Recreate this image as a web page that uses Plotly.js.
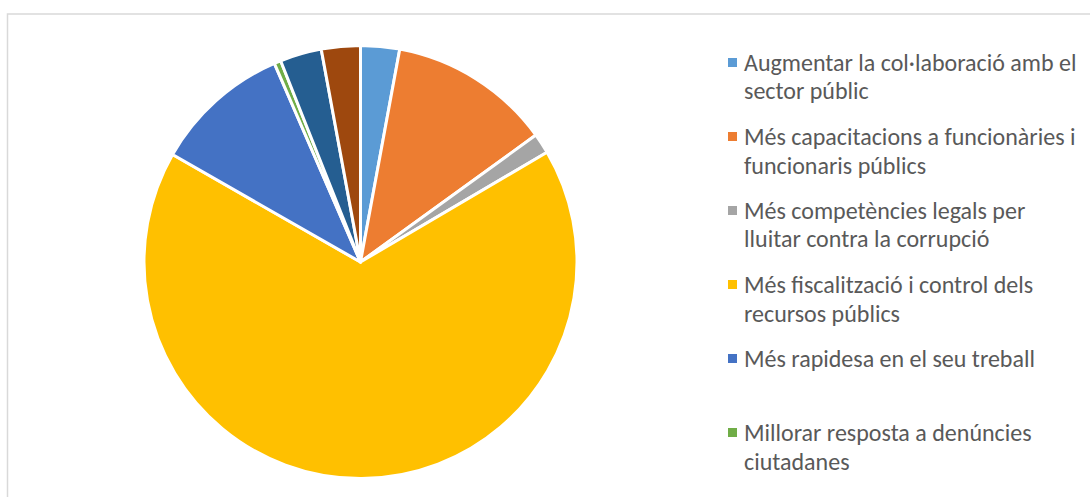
<!DOCTYPE html>
<html>
<head>
<meta charset="utf-8">
<script src="https://cdn.plot.ly/plotly-3.0.1.min.js"></script>
<style>html,body{margin:0;padding:0;background:#fff;}#chart{width:1090px;height:497px;}</style>
</head>
<body>
<div id="chart"></div>
<script>
// Categories (slices, clockwise from 12 o'clock)
var categories = [
  "Augmentar la col·laboració amb el sector públic",
  "Més capacitacions a funcionàries i funcionaris públics",
  "Més competències legals per lluitar contra la corrupció",
  "Més fiscalització i control dels recursos públics",
  "Més rapidesa en el seu treball",
  "Millorar resposta a denúncies ciutadanes",
  "Altres",
  "NS/NC"
];
// Share of answers (%)
var values = [2.9, 12.1, 1.5, 66.6, 10.2, 0.5, 3.1, 2.9];
var colors = ["#5B9BD5", "#ED7D31", "#A5A5A5", "#FFC000", "#4472C4", "#70AD47", "#255E91", "#9E480E"];
// Legend text lines (as wrapped in the picture); only the first six entries are visible
var legendLines = [
  ["Augmentar la col·laboració amb el", "sector públic"],
  ["Més capacitacions a funcionàries i", "funcionaris públics"],
  ["Més competències legals per", "lluitar contra la corrupció"],
  ["Més fiscalització i control dels", "recursos públics"],
  ["Més rapidesa en el seu treball"],
  ["Millorar resposta a denúncies", "ciutadanes"]
];

var W = 1090, H = 497;
function px(x){ return x / W; }
function py(y){ return 1 - y / H; }

var cx = 360.5, cy = 262, r = 216.5;

var trace = {
  type: "pie",
  labels: categories,
  values: values,
  sort: false,
  direction: "clockwise",
  rotation: 0,
  textinfo: "none",
  marker: { colors: colors, line: { color: "#ffffff", width: 3 } },
  domain: { x: [px(cx - r), px(cx + r)], y: [py(cy + r), py(cy - r)] },
  showlegend: false
};

var shapes = [{
  type: "rect", xref: "paper", yref: "paper",
  x0: px(7.5), x1: 1.2, y0: -0.2, y1: py(14),
  line: { color: "#d9d9d9", width: 1.5 }, fillcolor: "rgba(0,0,0,0)"
}];
var annotations = [];
var fontFam = "Carlito, Lato, 'Liberation Sans', sans-serif";
var entryTop = 62.5, entryStep = 74, lineStep = 28.5;
legendLines.forEach(function(lines, i){
  var y0 = entryTop + i * entryStep;
  shapes.push({
    type: "rect", xref: "paper", yref: "paper",
    x0: px(728), x1: px(737), y0: py(y0 + 4.5), y1: py(y0 - 4.5),
    line: { width: 0 }, fillcolor: colors[i]
  });
  lines.forEach(function(t, j){
    annotations.push({
      xref: "paper", yref: "paper", x: px(742), y: py(y0 + j * lineStep),
      xanchor: "left", yanchor: "middle", showarrow: false,
      text: t, font: { family: fontFam, size: 24, color: "#595959" }
    });
  });
});

var layout = {
  width: W, height: H,
  margin: { l: 0, r: 0, t: 0, b: 0 },
  paper_bgcolor: "#ffffff",
  shapes: shapes,
  annotations: annotations
};
Plotly.newPlot("chart", [trace], layout, { displayModeBar: false, staticPlot: true });
</script>
</body>
</html>
